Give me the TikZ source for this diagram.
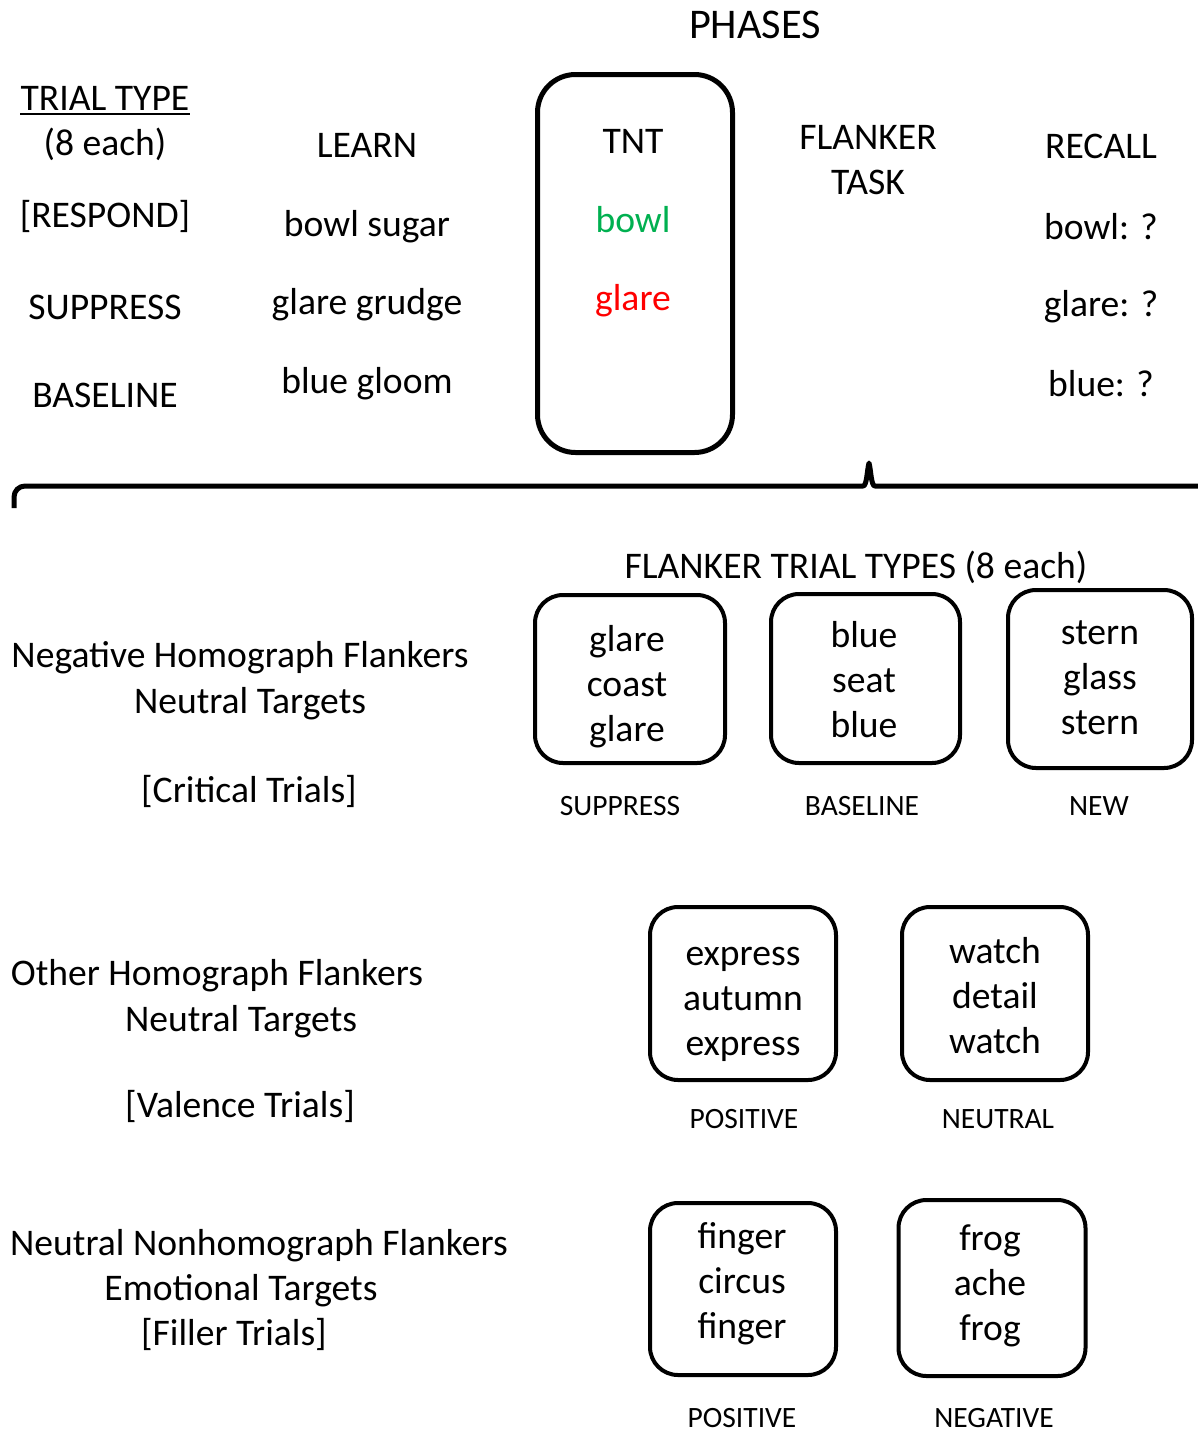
\documentclass[tikz,border=0pt]{standalone}
\usepackage{fontspec}
\setmainfont{Carlito}
\definecolor{tntgreen}{RGB}{0,176,80}
\definecolor{tntred}{RGB}{255,0,0}
\begin{document}
\begin{tikzpicture}[x=1pt,y=-1pt,
  txt/.style={anchor=base, inner sep=0pt, font=\fontsize{37.6}{45}\selectfont},
  big/.style={anchor=base, inner sep=0pt, font=\fontsize{42.3}{50}\selectfont},
  lbl/.style={anchor=base, inner sep=0pt, font=\fontsize{29.5}{35}\selectfont},
  fbox/.style={draw, line width=4pt, rounded corners=28pt, inner sep=0pt},
  ftext/.style={align=center, inner sep=0pt, anchor=center, font=\fontsize{37.6}{45}\selectfont},
  tntbox/.style={draw, line width=5pt, rounded corners=38pt, minimum width=195pt, minimum height=378pt, inner sep=0pt},
  brace/.style={line width=5pt, line join=round}
]
\useasboundingbox (0,0) rectangle (1198,1433);

% header
\node[big] (phases) at (755,38) {PHASES};

% trial types column
\node[txt] (tt) at (105,110) {TRIAL TYPE};
\draw[line width=2pt] ([yshift=-3.5pt]tt.base west) -- ([yshift=-3.5pt]tt.base east);
\node[txt] (each) at (105,155) {(8 each)};
\node[txt] (respond) at (105,227) {[RESPOND]};
\node[txt] (suppress) at (105,319) {SUPPRESS};
\node[txt] (baseline) at (105,407) {BASELINE};

% learn column
\node[txt] (learn) at (367,157) {LEARN};
\node[txt] (bs) at (367,236) {bowl sugar};
\node[txt] (gg) at (367,314) {glare grudge};
\node[txt] (bg) at (367,393) {blue gloom};

% TNT
\node[tntbox] (tnt) at (635,263.5) {};
\node[txt] (tnttitle) at (633,153) {TNT};
\node[txt, text=tntgreen] (tntbowl) at (633,232) {bowl};
\node[txt, text=tntred] (tntglare) at (633,310) {glare};

% flanker task
\node[txt] (fl1) at (868,149) {FLANKER};
\node[txt] (fl2) at (868,194) {TASK};

% recall
\node[txt] (recall) at (1101,158) {RECALL};
\node[txt] (rbowl) at (1101,239) {bowl: ?};
\node[txt] (rglare) at (1101,316) {glare: ?};
\node[txt] (rblue) at (1101,396) {blue: ?};

% brace
\coordinate (bl) at (14,508);
\coordinate (btip) at (869,463);
\coordinate (br) at (1205,486);
\draw[brace] (bl) -- (14,497) to[out=90,in=180] (25,486) -- (863,486)
  .. controls (867,486) and (867,470) .. (btip)
  .. controls (871,470) and (871,486) .. (875,486) -- (br);

% flanker trial types
\node[txt] (ftt) at (856,578) {FLANKER TRIAL TYPES (8 each)};

% row 1
\node[txt] (r1a) at (240,667) {Negative Homograph Flankers};
\node[txt] (r1b) at (250,713) {Neutral Targets};
\node[txt] (r1c) at (249,802) {[Critical Trials]};
\node[fbox, minimum width=190pt, minimum height=168pt] (b1) at (630,679) {};
\node[fbox, minimum width=189pt, minimum height=169pt] (b2) at (865.5,678.5) {};
\node[fbox, minimum width=184pt, minimum height=178pt] (b3) at (1100,679) {};
\node[ftext] (b1t) at (627,687) {\strut glare\\\strut coast\\\strut glare};
\node[ftext] (b2t) at (864,683) {\strut blue\\\strut seat\\\strut blue};
\node[ftext] (b3t) at (1100,680) {\strut stern\\\strut glass\\\strut stern};
\node[lbl] (l1) at (620,815) {SUPPRESS};
\node[lbl] (l2) at (862,815) {BASELINE};
\node[lbl] (l3) at (1099,815) {NEW};

% row 2
\node[txt] (r2a) at (217,985) {Other Homograph Flankers};
\node[txt] (r2b) at (241,1031) {Neutral Targets};
\node[txt] (r2c) at (240,1117) {[Valence Trials]};
\node[fbox, minimum width=186pt, minimum height=173pt] (b4) at (743,993.5) {};
\node[fbox, minimum width=186pt, minimum height=173pt] (b5) at (995,993.5) {};
\node[ftext] (b4t) at (743,1001.5) {\strut express\\\strut autumn\\\strut express};
\node[ftext] (b5t) at (995,999.5) {\strut watch\\\strut detail\\\strut watch};
\node[lbl] (l4) at (744,1128) {POSITIVE};
\node[lbl] (l5) at (998,1128) {NEUTRAL};

% row 3
\node[txt] (r3a) at (259,1255) {Neutral Nonhomograph Flankers};
\node[txt] (r3b) at (241,1300) {Emotional Targets};
\node[txt] (r3c) at (234,1345) {[Filler Trials]};
\node[fbox, minimum width=186pt, minimum height=172pt] (b6) at (743,1289) {};
\node[fbox, minimum width=187pt, minimum height=176pt] (b7) at (992,1288) {};
\node[ftext] (b6t) at (742,1284.5) {\strut finger\\\strut circus\\\strut finger};
\node[ftext] (b7t) at (990,1286) {\strut frog\\\strut ache\\\strut frog};
\node[lbl] (l6) at (742,1427) {POSITIVE};
\node[lbl] (l7) at (994,1427) {NEGATIVE};
\end{tikzpicture}
\end{document}
